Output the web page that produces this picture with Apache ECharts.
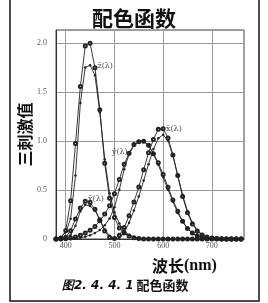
<!DOCTYPE html>
<html><head><meta charset="utf-8">
<script src="https://cdn.jsdelivr.net/npm/echarts@6/dist/echarts.min.js"></script>
<style>html,body{margin:0;padding:0;background:#fff}#c{width:268px;height:303px}</style>
</head><body><div id="c"></div>
<script>
const wavelengths = [380,390,400,410,420,430,440,450,460,470,480,490,500,510,520,530,540,550,560,570,580,590,600,610,620,630,640,650,660,670,680,690,700,710,720,730,740,750,760];
// 2-degree observer (filled dots)
const xBar2 = [0.001,0.004,0.014,0.044,0.134,0.284,0.348,0.336,0.291,0.195,0.096,0.032,0.005,0.009,0.063,0.166,0.290,0.433,0.595,0.762,0.916,1.026,1.062,1.003,0.854,0.642,0.448,0.284,0.165,0.087,0.047,0.023,0.011,0.006,0.003,0.001,0.001,0,0];
const yBar2 = [0,0,0,0.001,0.004,0.012,0.023,0.038,0.060,0.091,0.139,0.208,0.323,0.503,0.710,0.862,0.954,0.995,0.995,0.952,0.870,0.757,0.631,0.503,0.381,0.265,0.175,0.107,0.061,0.032,0.017,0.008,0.004,0.002,0.001,0,0,0,0];
const zBar2 = [0.006,0.020,0.068,0.207,0.646,1.386,1.747,1.772,1.669,1.288,0.813,0.465,0.272,0.158,0.078,0.042,0.020,0.009,0.004,0.002,0.002,0.001,0.001,0,0,0,0,0,0,0,0,0,0,0,0,0,0,0,0];
// 10-degree observer (open circles)
const xBar10 = [0,0.002,0.019,0.085,0.204,0.315,0.384,0.371,0.302,0.196,0.081,0.016,0.004,0.037,0.118,0.236,0.377,0.530,0.705,0.879,1.014,1.119,1.124,1.030,0.856,0.647,0.432,0.268,0.153,0.081,0.041,0.020,0.010,0.005,0.002,0.001,0.001,0,0];
const yBar10 = [0,0,0.002,0.009,0.021,0.039,0.062,0.089,0.128,0.185,0.254,0.339,0.461,0.607,0.762,0.875,0.962,0.992,0.997,0.956,0.869,0.777,0.658,0.528,0.398,0.283,0.180,0.108,0.060,0.032,0.016,0.008,0.004,0.002,0.001,0,0,0,0];
const zBar10 = [0.001,0.010,0.086,0.389,0.973,1.553,1.967,1.995,1.745,1.318,0.772,0.415,0.219,0.112,0.061,0.030,0.014,0.004,0,0,0,0,0,0,0,0,0,0,0,0,0,0,0,0,0,0,0,0,0];
const xTicks = [400,500,600,700];
const yTicks = [0,0.5,1.0,1.5,2.0];
const curveLabels = [[481,1.76,'z̄(λ)'],[511,0.89,'ȳ(λ)'],[622,1.12,'x̄(λ)'],[462,0.41,'x̄(λ)']];

const pair = arr => wavelengths.map((w,i)=>[w,arr[i]]);
const ink = '#222';
function filled(name, arr){return {name,type:'line',data:pair(arr),symbol:'circle',symbolSize:2.5,showAllSymbol:true,
  lineStyle:{color:ink,width:0.9},itemStyle:{color:ink},z:3};}
function open(name, arr){return {name,type:'line',data:pair(arr),symbol:'emptyCircle',symbolSize:3,showAllSymbol:true,
  lineStyle:{color:ink,width:0.9},itemStyle:{color:ink,borderWidth:0.7,borderColor:ink},z:2};}

const chart = echarts.init(document.getElementById('c'));
chart.setOption({
  animation:false,
  backgroundColor:'#fff',
  title:[
    {text:'配色函数',left:'center',top:3,textStyle:{fontFamily:'Noto Sans CJK SC',fontSize:21,fontWeight:'bold',color:'#111'}},
    {text:'{a|波长}{b|(nm)}',left:147,top:253,textStyle:{rich:{
      a:{fontFamily:'Noto Sans CJK SC',fontSize:16,color:'#111',fontWeight:'bold'},
      b:{fontFamily:'Liberation Serif',fontSize:16,color:'#111'}}}},
    {text:'{a|图2. 4. 4. 1}{b| 配色函数}',left:57,top:274,textStyle:{rich:{
      a:{fontFamily:'DejaVu Sans',fontSize:12,fontStyle:'italic',fontWeight:'bold',color:'#111'},
      b:{fontFamily:'Noto Sans CJK SC',fontSize:13,fontWeight:'bold',color:'#111'}}}}
  ],
  grid:{left:56,top:30,right:24,bottom:64,show:true,borderColor:'#444',borderWidth:1},
  xAxis:{type:'value',min:380,max:766,
    axisLine:{show:true,lineStyle:{color:'#333'}},
    axisTick:{show:false,customValues:xTicks},
    axisLabel:{customValues:xTicks,fontFamily:'Liberation Serif',fontSize:8,color:'#555',margin:3},
    splitLine:{show:true,lineStyle:{color:'#999',width:1}}},
  yAxis:{type:'value',min:0,max:2.13,interval:0.5,
    name:'三刺激值',nameLocation:'middle',nameRotate:90,nameGap:23,nameMoveOverlap:false,
    nameTextStyle:{fontFamily:'Noto Sans CJK SC',fontSize:16,color:'#111',fontWeight:'bold'},
    axisLine:{show:true,lineStyle:{color:'#333'}},
    axisTick:{show:false},
    axisLabel:{showMaxLabel:false,fontFamily:'Liberation Serif',fontSize:8,color:'#555',margin:9,
      formatter:v=>v===0?'0':v.toFixed(1)},
    splitLine:{show:true,lineStyle:{color:'#999',width:1}}},
  series:[
    open('z10',zBar10),filled('z2',zBar2),
    open('y10',yBar10),filled('y2',yBar2),
    open('x10',xBar10),filled('x2',xBar2),
    {type:'scatter',data:curveLabels,symbolSize:1,itemStyle:{color:'rgba(0,0,0,0)'},z:5,
     label:{show:true,position:'inside',formatter:p=>p.data[2],fontFamily:'DejaVu Serif',fontSize:8,color:'#222'}}
  ],
  graphic:[{type:'rect',shape:{x:10,y:-3,width:249,height:304},style:{fill:null,stroke:'#111',lineWidth:1.5},z:10}]
});
</script></body></html>
